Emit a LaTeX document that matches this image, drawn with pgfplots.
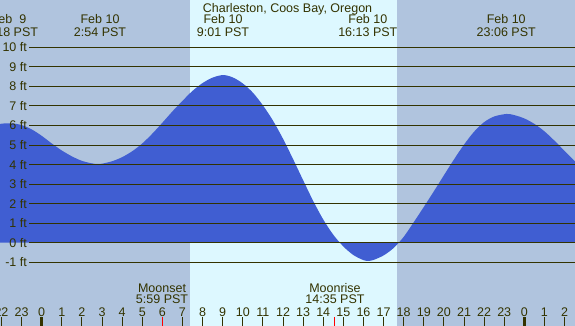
\documentclass[border=0pt]{standalone}
\usepackage{pgfplots}
\pgfplotsset{compat=1.18}
\usepackage{fontspec}
\setmainfont{Liberation Sans}
\definecolor{bgcol}{RGB}{176,196,222}
\definecolor{daycol}{RGB}{221,248,255}
\definecolor{water}{RGB}{64,94,210}
\definecolor{ink}{RGB}{51,51,0}
\begin{document}
\fontsize{12.5}{13}\selectfont
\begin{tikzpicture}[every node/.style={text=ink, inner sep=0pt}]
\begin{axis}[
  at={(0,0)}, anchor=south west,
  scale only axis, width=575pt, height=326pt,
  xmin=-2.074, xmax=26.52, ymin=-4.26, ymax=12.42,
  axis lines=none, ticks=none, clip=true,
]
\fill[bgcol] (axis cs:-3,-5) rectangle (axis cs:28,13);
\fill[daycol] (axis cs:7.37,-5) rectangle (axis cs:17.65,13);
\addplot[fill=water, draw=none, smooth] coordinates {
(-2.5,5.98) (-2.0,6.09) (-1.5,6.11) (-1.0,6.02) (-0.5,5.80) (0,5.47) (0.5,5.08)
(1.0,4.72) (1.5,4.42) (2.0,4.19) (2.5,4.06) (2.9,4.03)
(3.5,4.17) (4.0,4.38) (4.5,4.68) (5.0,5.08) (5.5,5.58) (6.0,6.14) (6.5,6.72)
(7.0,7.26) (7.5,7.77) (8.0,8.17) (8.5,8.45) (9.02,8.58)
(9.5,8.46) (10.0,8.15) (10.5,7.68) (11.0,7.03) (11.5,6.25) (12.0,5.32)
(12.5,4.28) (13.0,3.20) (13.5,2.14) (14.0,1.19) (14.5,0.41) (15.0,-0.19)
(15.5,-0.63) (16.0,-0.89) (16.25,-0.93)
(16.5,-0.88) (17.0,-0.65) (17.5,-0.27) (18.0,0.30) (18.5,1.05) (19.0,1.83)
(19.5,2.63) (20.0,3.45) (20.5,4.26) (21.0,5.02) (21.5,5.68) (22.0,6.17)
(22.5,6.46) (23.12,6.59)
(23.5,6.53) (24.0,6.36) (24.5,6.08) (25.0,5.70) (25.5,5.22) (26.0,4.70)
(26.5,4.18) (27.0,3.67)
} \closedcycle;
% horizontal lines and labels
\pgfplotsinvokeforeach{-1,0,1,2,3,4,5,6,7,8,9,10}{
  \draw[ink, line width=1pt] (axis cs:-0.63,#1) -- (axis cs:27,#1);
  \node[anchor=base east] at (axis cs:-0.73,#1-0.23) {#1 ft};
}
% hour ticks
\pgfplotsinvokeforeach{-2,-1,0,1,2,3,4,5,6,7,8,9,10,11,12,13,14,15,16,17,18,19,20,21,22,23,24,25,26}{
  \draw[ink, line width=1pt] (axis cs:#1,-3.80) -- (axis cs:#1,-4.5);
  \node[anchor=base] at (axis cs:#1,-3.757) {\pgfmathtruncatemacro{\lab}{mod(#1+48,24)}\lab};
}
\draw[ink, line width=3pt] (axis cs:0,-3.80) -- (axis cs:0,-4.5);
\draw[ink, line width=3pt] (axis cs:24,-3.80) -- (axis cs:24,-4.5);
\draw[red, line width=1pt] (axis cs:5.983,-3.80) -- (axis cs:5.983,-4.5);
\draw[red, line width=1pt] (axis cs:14.583,-3.80) -- (axis cs:14.583,-4.5);
% moon labels
\node[anchor=base] at (axis cs:5.983,-2.53) {Moonset};
\node[anchor=base] at (axis cs:5.983,-3.12) {5:59 PST};
\node[anchor=base] at (axis cs:14.583,-2.53) {Moonrise};
\node[anchor=base] at (axis cs:14.583,-3.12) {14:35 PST};
% top labels
\node[anchor=base] at (axis cs:12.225,11.80) {Charleston, Coos Bay, Oregon};
\node[anchor=base] at (axis cs:-1.65,11.22) {Feb\ \ 9};
\node[anchor=base] at (axis cs:-1.65,10.57) {22:18 PST};
\node[anchor=base] at (axis cs:2.9,11.22) {Feb 10};
\node[anchor=base] at (axis cs:2.9,10.57) {2:54 PST};
\node[anchor=base] at (axis cs:9.017,11.22) {Feb 10};
\node[anchor=base] at (axis cs:9.017,10.57) {9:01 PST};
\node[anchor=base] at (axis cs:16.217,11.22) {Feb 10};
\node[anchor=base] at (axis cs:16.217,10.57) {16:13 PST};
\node[anchor=base] at (axis cs:23.1,11.22) {Feb 10};
\node[anchor=base] at (axis cs:23.1,10.57) {23:06 PST};
\end{axis}
\pgfresetboundingbox
\useasboundingbox (0,0) rectangle (575pt,326pt);
\end{tikzpicture}
\end{document}
